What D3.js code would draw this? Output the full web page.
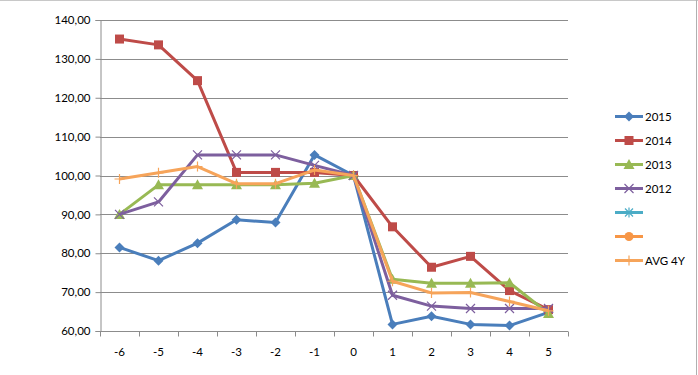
<!DOCTYPE html>
<html><head><meta charset="utf-8">
<script src="https://cdn.jsdelivr.net/npm/d3@7"></script>
<style>body{margin:0;background:#fff}svg{display:block}</style>
</head><body>
<script>
const categories = ["-6","-5","-4","-3","-2","-1","0","1","2","3","4","5"];
const s2015 = [81.5,78.1,82.6,88.6,87.9,105.3,100,61.7,63.8,61.7,61.4,64.8];
const s2014 = [135.1,133.6,124.4,100.8,100.8,100.8,100,86.8,76.4,79.2,70.4,65.5];
const s2013 = [90.0,97.6,97.6,97.6,97.6,98.0,100,73.3,72.3,72.3,72.4,64.5];
const s2012 = [90.0,93.2,105.3,105.3,105.3,102.6,100,69.2,66.4,65.8,65.8,65.8];
const avg4y = [99.1,100.7,102.3,97.9,97.9,101.4,100,72.8,69.8,69.9,67.6,65.2];
const yTicks = [60,70,80,90,100,110,120,130,140];
const legendNames = ["2015","2014","2013","2012","","","AVG 4Y"];

const W=698,H=375;
const svg=d3.select("body").append("svg").attr("width",W).attr("height",H);
const font="Lato, 'Liberation Sans', sans-serif";

// sheet borders
svg.append("line").attr("x1",0).attr("x2",W).attr("y1",0.5).attr("y2",0.5).attr("stroke","#c8c8c8");
svg.append("line").attr("x1",696.5).attr("x2",696.5).attr("y1",0).attr("y2",H).attr("stroke","#b0b0b0");

const x=d3.scaleBand().domain(categories).range([100,568]);
const y=d3.scaleLinear().domain([60,140]).range([331,20]);

// gridlines
svg.append("g").selectAll("line").data(yTicks).join("line")
 .attr("x1",100).attr("x2",568).attr("y1",d=>Math.round(y(d))+0.5).attr("y2",d=>Math.round(y(d))+0.5)
 .attr("stroke","#8c8c8c").attr("stroke-width",1);

// y axis
const yAxis=d3.axisLeft(y).tickValues(yTicks).tickSize(5).tickFormat(d=>d3.format(".2f")(d).replace(".",","));
const gy=svg.append("g").attr("transform","translate(100.5,0)").call(yAxis);
gy.select(".domain").attr("stroke","#8c8c8c");
gy.selectAll(".tick line").attr("stroke","#8c8c8c");
gy.selectAll("text").attr("font-family",font).attr("font-size",11.5).attr("fill","#000").attr("x",-10);

// x axis
const gx=svg.append("g").attr("transform","translate(0,331.5)");
gx.append("line").attr("x1",100).attr("x2",568).attr("stroke","#8c8c8c");
const bounds=d3.range(13).map(i=>100+i*x.step());
gx.selectAll("line.t").data(bounds).join("line").attr("class","t")
 .attr("x1",d=>Math.round(d)+0.5).attr("x2",d=>Math.round(d)+0.5).attr("y1",0).attr("y2",5).attr("stroke","#8c8c8c");
gx.selectAll("text").data(categories).join("text")
 .attr("x",d=>x(d)+x.bandwidth()/2).attr("y",24).attr("text-anchor","middle")
 .attr("font-family",font).attr("font-size",11.5).attr("fill","#000").text(d=>d);

const cx=i=>x(categories[i])+x.bandwidth()/2;
const line=d3.line().x((d,i)=>cx(i)).y(d=>y(d));

function marker(g,type,color,px,py){
  if(type==="diamond"){
    g.append("path").attr("d",`M${px},${py-5}L${px+5},${py}L${px},${py+5}L${px-5},${py}Z`).attr("fill",color);
  } else if(type==="square"){
    g.append("rect").attr("x",px-4.5).attr("y",py-4.5).attr("width",9).attr("height",9).attr("fill",color);
  } else if(type==="triangle"){
    g.append("path").attr("d",`M${px},${py-5.5}L${px+5.5},${py+4.5}L${px-5.5},${py+4.5}Z`).attr("fill",color);
  } else if(type==="x"){
    g.append("path").attr("d",`M${px-4.5},${py-4.5}L${px+4.5},${py+4.5}M${px+4.5},${py-4.5}L${px-4.5},${py+4.5}`).attr("stroke",color).attr("stroke-width",1.2);
  } else if(type==="star"){
    g.append("path").attr("d",`M${px-4},${py-4}L${px+4},${py+4}M${px+4},${py-4}L${px-4},${py+4}M${px},${py-5}L${px},${py+5}`).attr("stroke",color).attr("stroke-width",1.2);
  } else if(type==="circle"){
    g.append("circle").attr("cx",px).attr("cy",py).attr("r",4.5).attr("fill",color);
  } else if(type==="plus"){
    g.append("path").attr("d",`M${px-5},${py}L${px+5},${py}M${px},${py-5}L${px},${py+5}`).attr("stroke",color).attr("stroke-width",1.2);
  }
}

const series=[
 {name:"2015",data:s2015,color:"#4A7EBB",m:"diamond"},
 {name:"2014",data:s2014,color:"#BE4B48",m:"square"},
 {name:"2013",data:s2013,color:"#98B954",m:"triangle"},
 {name:"2012",data:s2012,color:"#7D5F9E",m:"x"},
 {name:"AVG 4Y",data:avg4y,color:"#F6A45A",m:"plus"}
];
series.forEach(s=>{
  const g=svg.append("g");
  g.append("path").datum(s.data).attr("d",line).attr("fill","none").attr("stroke",s.color).attr("stroke-width",3).attr("stroke-linejoin","round");
  s.data.forEach((v,i)=>marker(g,s.m,s.color,cx(i),y(v)));
});

// legend
const legendColors=["#4A7EBB","#BE4B48","#98B954","#7D5F9E","#4BACC6","#F79646","#F6A45A"];
const legendMarkers=["diamond","square","triangle","x","star","circle","plus"];
const lg=svg.append("g");
legendNames.forEach((n,i)=>{
  const ly=116.5+i*24;
  lg.append("line").attr("x1",615).attr("x2",643).attr("y1",ly).attr("y2",ly).attr("stroke",legendColors[i]).attr("stroke-width",3);
  marker(lg,legendMarkers[i],legendColors[i],629,ly);
  lg.append("text").attr("x",645).attr("y",ly+4.5).attr("font-family",font).attr("font-size",11.5).attr("fill","#000").text(n);
});
</script>
</body></html>
